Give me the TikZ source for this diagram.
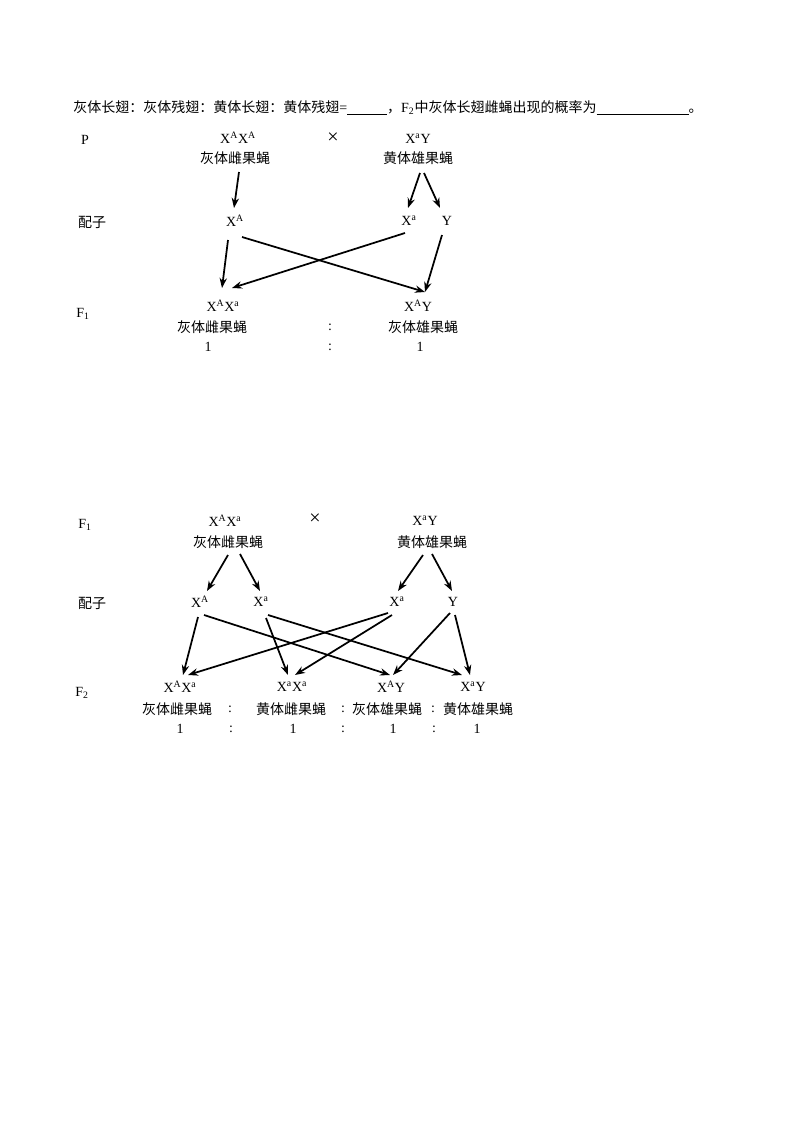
\documentclass[tikz,border=0pt]{standalone}
\usepackage{fontspec}
\setmainfont{Liberation Serif}
\newfontfamily\cjk{Noto Sans CJK SC}
\usetikzlibrary{arrows.meta,calc}

\tikzset{
  txt/.style={inner sep=0pt,font=\fontsize{10.5}{12}\selectfont},
  zh/.style={inner sep=0pt,font=\fontsize{10.5}{12}\selectfont\cjk},
  times/.style={inner sep=0pt,font=\fontsize{15}{16}\selectfont},
  arr/.style={-{Stealth[length=7.5pt,width=5.5pt]},line width=1.3pt}
}
\newcommand{\Xa}[1]{X\textsuperscript{#1}}

\begin{document}
\begin{tikzpicture}[x=0.75pt,y=-0.75pt]
\useasboundingbox (0,0) rectangle (800,1132);

% question line
\node[txt,anchor=west] (ques) at (73,108) {{\cjk 灰体长翅：灰体残翅：黄体长翅：黄体残翅}=\underline{\hspace{30pt}}{\cjk ，}F\textsubscript{2}{\cjk 中灰体长翅雌蝇出现的概率为}\underline{\hspace{69pt}}{\cjk 。}};

% first cross
\begin{scope}
    \node[txt] (plab) at (85,140) {P};
    \node[txt] (pf) at (238,138) {\Xa{A}\Xa{A}};
    \node[zh] (pfn) at (235,158) {灰体雌果蝇};
    \node[times] (pcross) at (333,138) {×};
    \node[txt] (pm) at (418,139) {\Xa{a}Y};
    \node[zh] (pmn) at (418,158) {黄体雄果蝇};

    \node[zh] (glab) at (92,222) {配子};
    \node[txt] (gA) at (235,221) {\Xa{A}};
    \node[txt] (ga) at (409,221) {\Xa{a}};
    \node[txt] (gY) at (447,221) {Y};

    \node[txt] (flab) at (83,314) {F\textsubscript{1}};
    \node[txt] (fAa) at (223,306) {\Xa{A}\Xa{a}};
    \node[txt] (fAY) at (418,306) {\Xa{A}Y};
    \node[zh] (fAan) at (212,327) {灰体雌果蝇};
    \node[txt] (fc1) at (330,327) {:};
    \node[zh] (fAYn) at (423,327) {灰体雄果蝇};
    \node[txt] (fr1) at (208,347) {1};
    \node[txt] (fc2) at (330,347) {:};
    \node[txt] (fr2) at (420,347) {1};
\end{scope}

    \draw[arr] ($(pfn)+(4,14)$) -- ($(gA)+(-1,-13)$);
    \draw[arr] ($(pmn)+(2,15)$) -- ($(ga)+(-1,-13)$);
    \draw[arr] ($(pmn)+(6,15)$) -- ($(gY)+(-7,-13)$);

    \draw[arr] ($(gA)+(-7,19)$) -- ($(fAa)+(-1,-18)$);
    \draw[arr] ($(gA)+(7,16)$) -- ($(fAY)+(7,-14)$);
    \draw[arr] ($(ga)+(-4,12)$) -- ($(fAa)+(9,-18)$);
    \draw[arr] ($(gY)+(-5,14)$) -- ($(fAY)+(7,-14)$);

% second cross
\begin{scope}
    \node[txt] (qlab) at (85,525) {F\textsubscript{1}};
    \node[txt] (qf) at (225,521) {\Xa{A}\Xa{a}};
    \node[zh] (qfn) at (228,542) {灰体雌果蝇};
    \node[times] (qcross) at (315,519) {×};
    \node[txt] (qm) at (425,521) {\Xa{a}Y};
    \node[zh] (qmn) at (432,542) {黄体雄果蝇};

    \node[zh] (hlab) at (92,603) {配子};
    \node[txt] (hA) at (200,602) {\Xa{A}};
    \node[txt] (ha1) at (261,602) {\Xa{a}};
    \node[txt] (ha2) at (397,602) {\Xa{a}};
    \node[txt] (hY) at (453,602) {Y};

    \node[txt] (klab) at (82,693) {F\textsubscript{2}};
    \node[txt] (kAa) at (180,687) {\Xa{A}\Xa{a}};
    \node[txt] (kaa) at (292,687) {\Xa{a}\Xa{a}};
    \node[txt] (kAY) at (391,687) {\Xa{A}Y};
    \node[txt] (kaY) at (473,687) {\Xa{a}Y};

    \node[zh] (kAan) at (177,709) {灰体雌果蝇};
    \node[txt] (kc1) at (230,709) {:};
    \node[zh] (kaan) at (291,709) {黄体雌果蝇};
    \node[txt] (kc2) at (343,709) {:};
    \node[zh] (kAYn) at (387,709) {灰体雄果蝇};
    \node[txt] (kc3) at (433,709) {:};
    \node[zh] (kaYn) at (478,709) {黄体雄果蝇};

    \node[txt] (kr1) at (180,729) {1};
    \node[txt] (kc4) at (231,729) {:};
    \node[txt] (kr2) at (293,729) {1};
    \node[txt] (kc5) at (343,729) {:};
    \node[txt] (kr3) at (393,729) {1};
    \node[txt] (kc6) at (434,729) {:};
    \node[txt] (kr4) at (477,729) {1};
\end{scope}

    \draw[arr] ($(qfn)+(0,13)$) -- ($(hA)+(7,-11)$);
    \draw[arr] ($(qfn)+(12,12)$) -- ($(ha1)+(-1,-11)$);
    \draw[arr] ($(qmn)+(-9,13)$) -- ($(ha2)+(1,-11)$);
    \draw[arr] ($(qmn)+(0,12)$) -- ($(hY)+(-1,-11)$);

    \draw[arr] ($(hA)+(-2,15)$) -- ($(kAa)+(3,-12)$);
    \draw[arr] ($(hA)+(4,13)$) -- ($(kAY)+(-1,-12)$);
    \draw[arr] ($(ha1)+(5,16)$) -- ($(kaa)+(-4,-12)$);
    \draw[arr] ($(ha1)+(7,13)$) -- ($(kaY)+(-11,-12)$);
    \draw[arr] ($(ha2)+(-9,11)$) -- ($(kAa)+(8,-12)$);
    \draw[arr] ($(ha2)+(-5,13)$) -- ($(kaa)+(3,-12)$);
    \draw[arr] ($(hY)+(-3,11)$) -- ($(kAY)+(2,-12)$);
    \draw[arr] ($(hY)+(2,13)$) -- ($(kaY)+(-3,-12)$);

\end{tikzpicture}
\end{document}
